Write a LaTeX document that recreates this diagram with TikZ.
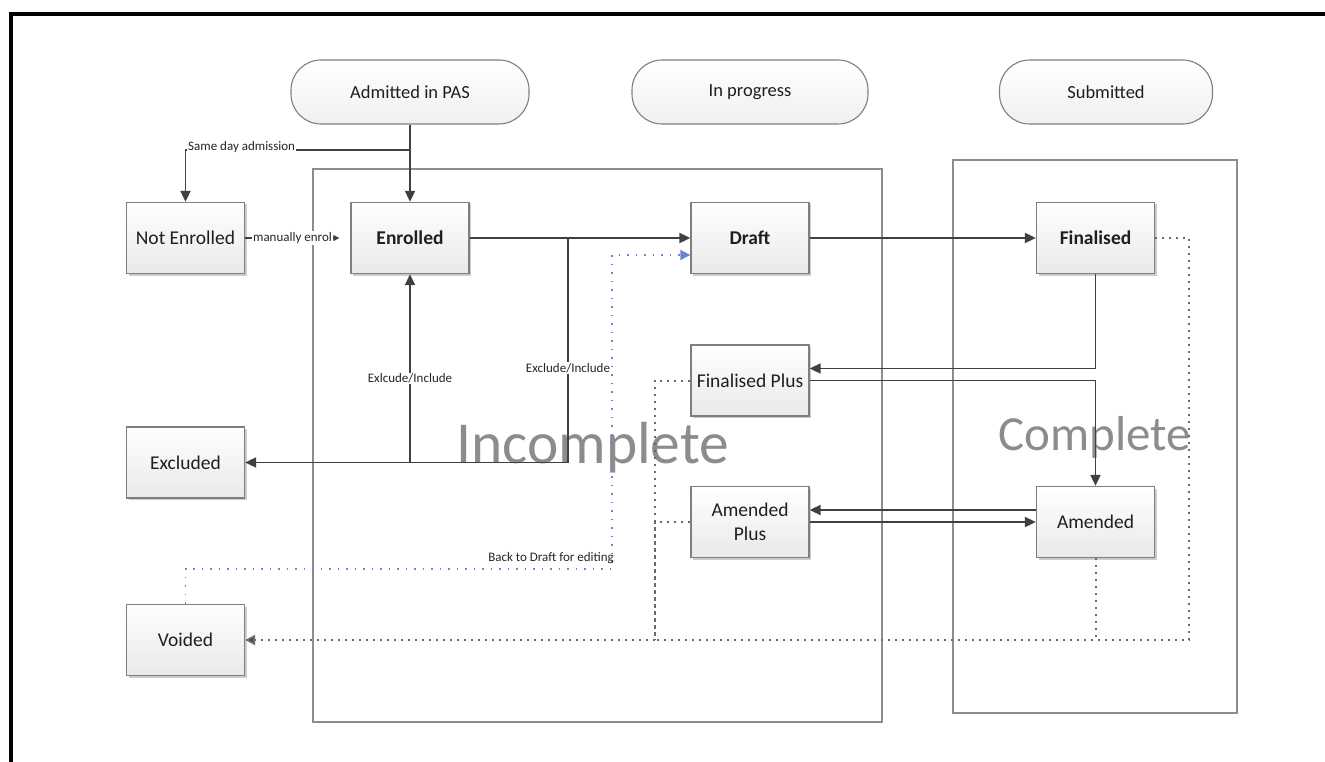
\documentclass[tikz,border=0pt]{standalone}
\usepackage{fontspec}
\setmainfont{Carlito}
\usetikzlibrary{arrows.meta,shadows}

\definecolor{boxborder}{HTML}{7F7F7F}
\definecolor{boxbottom}{HTML}{E9E9E9}
\definecolor{regionline}{HTML}{8C8C8C}
\definecolor{lineclr}{HTML}{404040}
\definecolor{dotclr}{HTML}{6A6A6A}
\definecolor{blueclr}{HTML}{6A84D8}
\definecolor{bigtext}{HTML}{8C8C8C}

\begin{document}
\begin{tikzpicture}[x=1pt,y=-1pt,
  state/.style={draw=boxborder, line width=1.3pt, top color=white, bottom color=boxbottom,
    minimum width=118pt, minimum height=71pt, inner sep=0pt, align=center,
    font=\fontsize{19.5}{22}\selectfont, text=black!88,
    drop shadow={shadow xshift=2pt, shadow yshift=-2pt, opacity=0.2, fill=black}},
  phase/.style={draw=boxborder, line width=1.1pt, rounded corners=30pt,
    top color=white, bottom color=black!6, minimum width=238pt, minimum height=64pt,
    inner sep=0pt, font=\fontsize{18.5}{21}\selectfont, text=black!88},
  region/.style={draw=regionline, line width=1.5pt},
  conn/.style={draw=lineclr, line width=1.8pt, -{Triangle[length=11pt,width=10pt]}},
  plain/.style={draw=lineclr, line width=1.8pt},
  graydot/.style={draw=dotclr, line width=2pt, dash pattern=on 2pt off 5pt},
  bluedot/.style={draw=blueclr, line width=1.8pt, dash pattern=on 1.8pt off 6.7pt},
  lbl/.style={font=\fontsize{13}{15}\selectfont, fill=white, inner xsep=1.5pt, inner ysep=1pt, text=black!85},
  big/.style={text=bigtext, inner sep=0pt}
]
\useasboundingbox (0,0) rectangle (1325,762);

% outer frame
\draw[line width=4pt, black] (11,764) -- (11,14) -- (1327,14);

% phase regions
\draw[region] (313,169) rectangle (882,722);
\draw[region] (953,160) rectangle (1237,713);
\node[big, anchor=base west, font=\fontsize{59.5}{62}\selectfont] (inc) at (456,463) {Incomplete};
\node[big, anchor=base west, font=\fontsize{49}{52}\selectfont] (cmp) at (998,450) {Complete};

% phase headers
\node[phase] (admit) at (410,92) {Admitted in PAS};
\node[phase, minimum width=236pt] (prog) at (750,92) {In progress};
\node[phase, minimum width=213pt] (subm) at (1106,92) {Submitted};

% states
\node[state] (notenr) at (185.5,238) {Not Enrolled};
\node[state, font=\fontsize{19.5}{22}\selectfont\bfseries] (enr) at (410,238) {Enrolled};
\node[state, font=\fontsize{19.5}{22}\selectfont\bfseries] (draft) at (750,238) {Draft};
\node[state, font=\fontsize{19.5}{22}\selectfont\bfseries] (fin) at (1095.5,238) {Finalised};
\node[state] (finplus) at (750,380.5) {Finalised Plus};
\node[state] (amplus) at (750,522) {Amended\\[2pt]Plus};
\node[state] (amd) at (1095.5,522) {Amended};
\node[state] (excl) at (185.5,462.5) {Excluded};
\node[state] (void) at (185.5,640) {Voided};

% junction points
\coordinate (sd) at (410,150);
\coordinate (xa) at (410,462.5);
\coordinate (xb) at (568,462.5);
\coordinate (xc) at (568,238);
\coordinate (bd) at (612,569);
\coordinate (gv) at (655,640);
\coordinate (fe) at (1189,640);

% admission
\draw[conn] (admit.south) -- (enr.north);
\draw[conn] (sd) -| (notenr.north);
\node[lbl, anchor=base west, inner xsep=1pt] (sdl) at (187,151) {Same day admission};
\draw[conn, line width=1.2pt, -{Triangle[length=6pt,width=6pt]}, shorten >=11pt]
  (notenr.east) -- node[lbl, pos=0.45] {manually enrol} (enr.west);

% main flow
\draw[conn] (enr.east) -- (draft.west);
\draw[conn] (draft.east) -- (fin.west);

% exclude / include
\draw[conn] (xb) -- (excl.east);
\draw[conn] (xa) -- node[lbl, pos=0.447] {Exlcude/Include} (enr.south);
\draw[plain] (xc) -- node[lbl, pos=0.58] {Exclude/Include} (xb);

% finalised / amended loop
\draw[conn] (fin.south) |- ([yshift=12pt]finplus.east);
\draw[conn] (finplus.east) -| (amd.north);
\draw[conn] ([yshift=12pt]amd.west) -- ([yshift=12pt]amplus.east);
\draw[conn] (amplus.east) -- (amd.west);

% voiding
\draw[graydot] (fin.east) -| (fe) -- (gv);
\draw[graydot] (amd.south) |- (gv);
\draw[graydot] (finplus.west) -| (gv);
\draw[graydot] (amplus.west) -| (gv);
\draw[graydot, -{Triangle[length=10pt,width=10pt,fill=lineclr]}] (gv) -- (void.east);

% back to draft
\draw[bluedot, -{Triangle[length=10pt,width=10pt]}] (void.north) |- (bd) |- ([yshift=-17pt]draft.west);
\node[font=\fontsize{13}{15}\selectfont, text=black!85, anchor=base east, inner sep=0pt] (btd) at (614,561) {Back to Draft for editing};
\end{tikzpicture}
\end{document}
